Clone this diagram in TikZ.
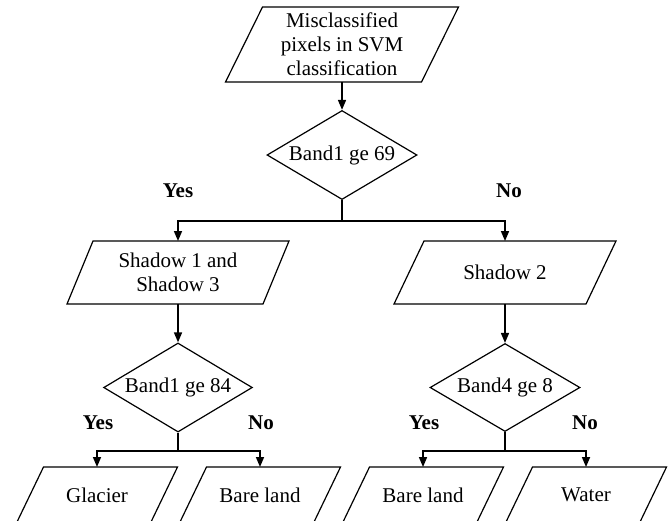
\documentclass[tikz,border=0pt]{standalone}
\usepackage{fontspec}
\setmainfont{Liberation Serif}
\usetikzlibrary{shapes.geometric,arrows.meta}

\begin{document}
\begin{tikzpicture}[x=0.5pt,y=-0.5pt]
\tikzstyle{data}=[rectangle, inner sep=1pt, outer sep=0pt, align=center, font=\fontsize{10.5}{12}\selectfont]
\tikzstyle{outline}=[line width=0.6pt]
\tikzstyle{test}=[draw, line width=0.6pt, diamond, aspect=1.67, inner sep=1pt, minimum width=75pt, minimum height=44pt, font=\fontsize{10.5}{12}\selectfont]
\tikzstyle{answer}=[font=\fontsize{10.5}{12}\selectfont\bfseries]
\tikzstyle{flow}=[line width=0.8pt, -{Triangle[length=5pt,width=4pt]}]

\useasboundingbox (0,0) rectangle (672,520);

\draw (342,44.5) node[data, minimum width=98pt, minimum height=37.5pt] (pixels) {Misclassified\\pixels in SVM\\classification};
\draw (342,155) node[test] (band1a) {Band1 ge 69};
\draw (178,272.5) node[data, minimum width=98pt, minimum height=31.5pt] (shadow13) {Shadow 1 and\\Shadow 3};
\draw (505,272.5) node[data, minimum width=96pt, minimum height=31.5pt] (shadow2) {Shadow 2};
\draw (178,387.5) node[test, minimum width=73.5pt] (band1b) {Band1 ge 84};
\draw (505,387.5) node[test] (band4) {Band4 ge 8};
\draw (97,495) node[data, minimum width=67pt, minimum height=28pt] (glacier) {Glacier};
\draw (260,495) node[data, minimum width=67pt, minimum height=28pt] (bare1) {Bare land};
\draw (423,495) node[data, minimum width=67pt, minimum height=28pt] (bare2) {Bare land};
\draw (586,495) node[data, minimum width=67pt, minimum height=28pt] (water) {Water};

% parallelogram outlines round the data nodes
\foreach \n/\s in {pixels/9.25pt, shadow13/6.5pt, shadow2/7.5pt, glacier/6.75pt, bare1/6.75pt, bare2/6.75pt, water/6.75pt}
  \draw[outline] ([xshift=\s]\n.north west) -- ([xshift=\s]\n.north east) -- ([xshift=-\s]\n.south east) -- ([xshift=-\s]\n.south west) -- cycle;

\draw (178,191) node[answer] (yes1) {Yes};
\draw (509,191) node[answer] (no1) {No};
\draw (98,423) node[answer] (yes2) {Yes};
\draw (261,423) node[answer] (no2) {No};
\draw (424,423) node[answer] (yes3) {Yes};
\draw (585,423) node[answer] (no3) {No};

\coordinate (split1) at (342,221);
\coordinate (split2) at (178,451);
\coordinate (split3) at (505,451);

\draw[flow] (pixels) -- (band1a);
\draw[line width=0.8pt] (band1a.south) -- (split1);
\draw[flow] (split1) -| (shadow13.north);
\draw[flow] (split1) -| (shadow2.north);
\draw[flow] (shadow13) -- (band1b);
\draw[flow] (shadow2) -- (band4);
\draw[line width=0.8pt] (band1b.south) -- (split2);
\draw[flow] (split2) -| (glacier.north);
\draw[flow] (split2) -| (bare1.north);
\draw[line width=0.8pt] (band4.south) -- (split3);
\draw[flow] (split3) -| (bare2.north);
\draw[flow] (split3) -| (water.north);
\end{tikzpicture}
\end{document}
